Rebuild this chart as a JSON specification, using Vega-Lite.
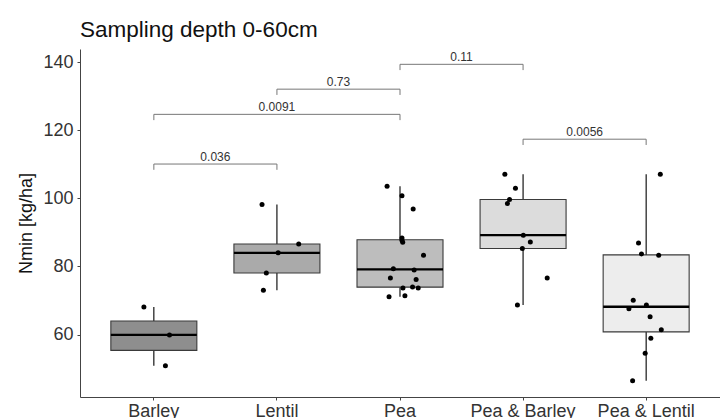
{
  "$schema": "https://vega.github.io/schema/vega-lite/v6.json",
  "autosize": {"type": "none"},
  "width": 640,
  "height": 348,
  "padding": {"left": 80, "top": 49, "right": 0, "bottom": 21},
  "background": "white",
  "config": {
    "view": {"stroke": null},
    "font": "Liberation Sans",
    "axis": {"grid": false, "domainColor": "#444444", "tickColor": "#444444", "labelColor": "#333333", "labelFontSize": 18, "tickSize": 3, "labelFont": "Liberation Sans", "titleFont": "Liberation Sans", "titleFontWeight": "normal", "titleColor": "#111111", "titleFontSize": 18}
  },
  "title": {"text": "Sampling depth 0-60cm", "anchor": "start", "frame": "group", "fontSize": 22.5, "fontWeight": "normal", "font": "Liberation Sans", "color": "#111111", "baseline": "alphabetic", "offset": 12, "dy": 22},
  "datasets": {
    "pts": [
      {"crop": "Barley", "nmin": 68.1, "jitter": -0.081},
      {"crop": "Barley", "nmin": 59.9, "jitter": 0.127},
      {"crop": "Barley", "nmin": 50.8, "jitter": 0.094},
      {"crop": "Lentil", "nmin": 98.2, "jitter": -0.121},
      {"crop": "Lentil", "nmin": 86.6, "jitter": 0.177},
      {"crop": "Lentil", "nmin": 84.0, "jitter": 0.010},
      {"crop": "Lentil", "nmin": 78.1, "jitter": -0.086},
      {"crop": "Lentil", "nmin": 73.0, "jitter": -0.110},
      {"crop": "Pea", "nmin": 103.6, "jitter": -0.105},
      {"crop": "Pea", "nmin": 100.8, "jitter": 0.016},
      {"crop": "Pea", "nmin": 96.9, "jitter": 0.107},
      {"crop": "Pea", "nmin": 88.4, "jitter": 0.016},
      {"crop": "Pea", "nmin": 87.7, "jitter": 0.016},
      {"crop": "Pea", "nmin": 87.1, "jitter": 0.022},
      {"crop": "Pea", "nmin": 83.3, "jitter": 0.191},
      {"crop": "Pea", "nmin": 79.3, "jitter": -0.054},
      {"crop": "Pea", "nmin": 79.0, "jitter": 0.115},
      {"crop": "Pea", "nmin": 76.6, "jitter": -0.078},
      {"crop": "Pea", "nmin": 76.2, "jitter": 0.131},
      {"crop": "Pea", "nmin": 73.7, "jitter": 0.024},
      {"crop": "Pea", "nmin": 74.0, "jitter": 0.102},
      {"crop": "Pea", "nmin": 73.7, "jitter": 0.148},
      {"crop": "Pea", "nmin": 71.1, "jitter": -0.089},
      {"crop": "Pea", "nmin": 71.4, "jitter": 0.040},
      {"crop": "Pea & Barley", "nmin": 107.1, "jitter": -0.148},
      {"crop": "Pea & Barley", "nmin": 103.0, "jitter": -0.062},
      {"crop": "Pea & Barley", "nmin": 99.7, "jitter": -0.110},
      {"crop": "Pea & Barley", "nmin": 98.5, "jitter": -0.127},
      {"crop": "Pea & Barley", "nmin": 89.2, "jitter": 0.002},
      {"crop": "Pea & Barley", "nmin": 87.2, "jitter": 0.059},
      {"crop": "Pea & Barley", "nmin": 85.3, "jitter": -0.006},
      {"crop": "Pea & Barley", "nmin": 76.6, "jitter": 0.196},
      {"crop": "Pea & Barley", "nmin": 68.7, "jitter": -0.046},
      {"crop": "Pea & Lentil", "nmin": 107.1, "jitter": 0.115},
      {"crop": "Pea & Lentil", "nmin": 86.9, "jitter": -0.062},
      {"crop": "Pea & Lentil", "nmin": 83.7, "jitter": -0.038},
      {"crop": "Pea & Lentil", "nmin": 83.3, "jitter": 0.102},
      {"crop": "Pea & Lentil", "nmin": 70.1, "jitter": -0.105},
      {"crop": "Pea & Lentil", "nmin": 68.7, "jitter": 0.002},
      {"crop": "Pea & Lentil", "nmin": 67.6, "jitter": -0.140},
      {"crop": "Pea & Lentil", "nmin": 65.2, "jitter": 0.032},
      {"crop": "Pea & Lentil", "nmin": 61.4, "jitter": 0.123},
      {"crop": "Pea & Lentil", "nmin": 58.9, "jitter": 0.038},
      {"crop": "Pea & Lentil", "nmin": 54.5, "jitter": -0.008},
      {"crop": "Pea & Lentil", "nmin": 46.4, "jitter": -0.110}
    ],
    "brackets": [
      {"g1": "Barley", "g2": "Lentil", "y": 110.1, "ylo": 108.4, "label": "0.036", "mid": "Barley", "off": 0.5},
      {"g1": "Barley", "g2": "Pea", "y": 124.7, "ylo": 123.0, "label": "0.0091", "mid": "Lentil", "off": 0},
      {"g1": "Lentil", "g2": "Pea", "y": 132.1, "ylo": 130.4, "label": "0.73", "mid": "Lentil", "off": 0.5},
      {"g1": "Pea", "g2": "Pea & Barley", "y": 139.4, "ylo": 137.7, "label": "0.11", "mid": "Pea", "off": 0.5},
      {"g1": "Pea & Barley", "g2": "Pea & Lentil", "y": 117.4, "ylo": 115.7, "label": "0.0056", "mid": "Pea & Barley", "off": 0.5}
    ]
  },
  "encoding": {
    "x": {"field": "crop", "type": "nominal", "title": null,
      "scale": {"domain": ["Barley", "Lentil", "Pea", "Pea & Barley", "Pea & Lentil"], "paddingInner": 0, "paddingOuter": 0.1},
      "axis": {"labelAngle": 0, "labelPadding": 2, "labelBaseline": "top"}},
    "y": {"field": "nmin", "type": "quantitative", "title": "Nmin [kg/ha]",
      "scale": {"domain": [41.65, 143.9], "nice": false, "zero": false},
      "axis": {"values": [60, 80, 100, 120, 140], "labelPadding": 4, "titlePadding": 7}}
  },
  "layer": [
    {
      "data": {"name": "pts"},
      "mark": {"type": "boxplot", "extent": 1.5, "size": 86, "outliers": false,
        "box": {"stroke": "#3a3a3a", "strokeWidth": 1.1, "opacity": 1},
        "median": {"color": "#000000", "thickness": 2.4, "opacity": 1},
        "rule": {"color": "#000000", "strokeWidth": 1.1, "opacity": 1}},
      "encoding": {
        "color": {"field": "crop", "type": "nominal", "legend": null,
          "scale": {"domain": ["Barley", "Lentil", "Pea", "Pea & Barley", "Pea & Lentil"], "range": ["#8e8e8e", "#aaaaaa", "#bdbdbd", "#dcdcdc", "#ededed"]}}
      }
    },
    {
      "data": {"name": "pts"},
      "mark": {"type": "point", "filled": true, "size": 25, "color": "#000000", "opacity": 1},
      "encoding": {
        "xOffset": {"field": "jitter", "type": "quantitative", "scale": {"domain": [-0.5, 0.5]}}
      }
    },
    {
      "data": {"name": "brackets"},
      "mark": {"type": "rule", "color": "#777777", "strokeWidth": 1},
      "encoding": {
        "x": {"field": "g1", "type": "nominal"},
        "x2": {"field": "g2"},
        "y": {"field": "y", "type": "quantitative"}
      }
    },
    {
      "data": {"name": "brackets"},
      "transform": [{"fold": ["g1", "g2"], "as": ["end", "cat"]}],
      "mark": {"type": "rule", "color": "#777777", "strokeWidth": 1},
      "encoding": {
        "x": {"field": "cat", "type": "nominal"},
        "y": {"field": "y", "type": "quantitative"},
        "y2": {"field": "ylo"}
      }
    },
    {
      "data": {"name": "brackets"},
      "mark": {"type": "text", "fontSize": 12, "color": "#333333", "baseline": "alphabetic", "dy": -3, "font": "Liberation Sans"},
      "encoding": {
        "x": {"field": "mid", "type": "nominal"},
        "xOffset": {"field": "off", "type": "quantitative"},
        "y": {"field": "y", "type": "quantitative"},
        "text": {"field": "label"}
      }
    }
  ]
}
